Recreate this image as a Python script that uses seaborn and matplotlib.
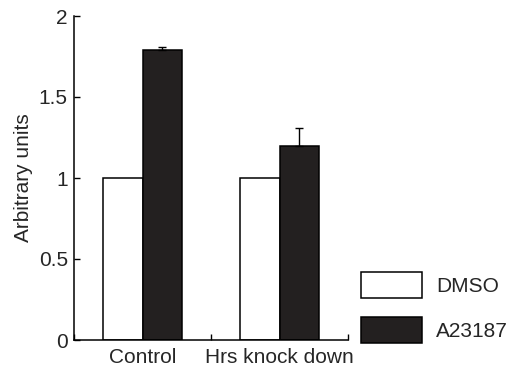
import matplotlib
matplotlib.use("Agg")
import matplotlib.pyplot as plt
import seaborn as sns
import pandas as pd
from matplotlib.ticker import FixedLocator

categories = ["Control", "Hrs knock down"]
treatments = ["DMSO", "A23187"]
dmso = [1.0, 1.0]
a23187 = [1.79, 1.20]
dmso_err = [0.0, 0.0]
a23187_err = [0.02, 0.11]
yticks = [0, 0.5, 1, 1.5, 2]
ytick_labels = ["0", "0.5", "1", "1.5", "2"]

sns.set_theme(style="white")
plt.rcParams["font.family"] = ["Liberation Sans", "DejaVu Sans"]
FS = 15

df = pd.DataFrame({
    "group": categories * 2,
    "treatment": [treatments[0]] * 2 + [treatments[1]] * 2,
    "value": dmso + a23187,
})
errs = dmso_err + a23187_err

fig = plt.figure(figsize=(5.19, 3.67), dpi=100)
ax = fig.add_axes([74 / 519, 1 - 340 / 367, 274 / 519, 324 / 367])

sns.barplot(data=df, x="group", y="value", hue="treatment", order=categories,
            hue_order=treatments, palette=["white", "#231f20"], width=0.58,
            edgecolor="black", linewidth=1.1, errorbar=None, legend=True, ax=ax)

for p, e, v in zip(ax.patches, errs, df["value"]):
    if e > 0:
        cx = p.get_x() + p.get_width() / 2
        ax.errorbar([cx], [v], yerr=[[0], [e]], fmt="none", ecolor="black",
                    elinewidth=1.0, capsize=3, capthick=1.0)

ax.set_xlim(-0.5, 1.5)
ax.set_ylim(0, 2)
ax.set_yticks(yticks)
ax.set_yticklabels(ytick_labels)
ax.set_xlabel("")
ax.set_ylabel("Arbitrary units", fontsize=FS, labelpad=4)
ax.tick_params(axis="y", direction="in", length=4, width=1, color="black",
               labelsize=FS, left=True, pad=4.5)
ax.tick_params(axis="x", which="major", length=0, labelsize=FS, pad=6)
ax.xaxis.set_minor_locator(FixedLocator([-0.5, 0.5, 1.5]))
ax.tick_params(axis="x", which="minor", direction="in", length=4, width=1,
               color="black", bottom=True)
for s in ["top", "right"]:
    ax.spines[s].set_visible(False)
for s in ["left", "bottom"]:
    ax.spines[s].set_color("black")
    ax.spines[s].set_linewidth(1.1)

h, l = ax.get_legend_handles_labels()
ax.legend_.remove()
fig.legend(h, l, loc="upper left", bbox_to_anchor=(353 / 519, 1 - 264 / 367),
           frameon=False, fontsize=FS, handlelength=2.93, handleheight=1.55,
           labelspacing=0.9, handletextpad=0.65, borderaxespad=0)

fig.savefig("out.png", dpi=100)
